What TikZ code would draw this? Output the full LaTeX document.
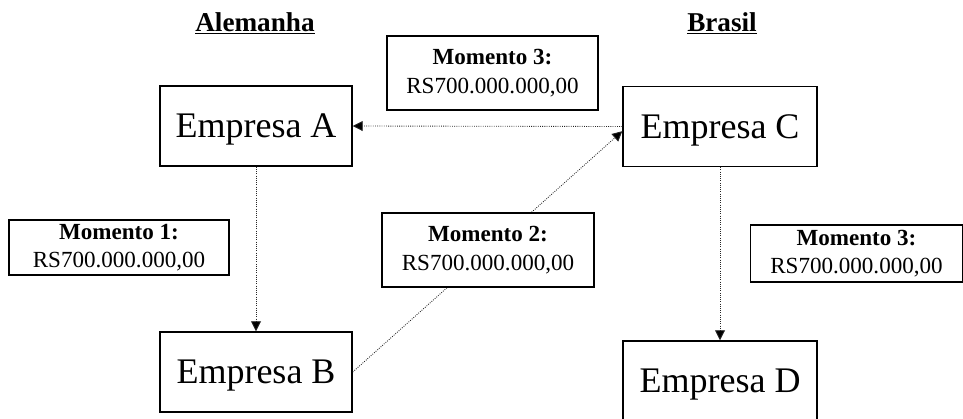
\documentclass[tikz,border=0pt]{standalone}
\usepackage{fontspec}
\setmainfont{Liberation Serif}
\usetikzlibrary{arrows.meta}

\begin{document}
\begin{tikzpicture}[x=0.75pt,y=-0.75pt,
  company/.style={draw,line width=1.1pt,fill=white,minimum width=144pt,
    minimum height=60pt,inner sep=0pt,text depth=0pt,
    font=\fontsize{27}{27}\selectfont},
  amount/.style={draw,line width=1.1pt,fill=white,inner sep=0pt,align=center,
    font=\fontsize{17.3}{21.5}\selectfont},
  heading/.style={inner sep=0pt,anchor=base,font=\fontsize{20.4}{20.4}\selectfont\bfseries},
  flow/.style={densely dotted,line width=0.65pt,draw=black!85,
    -{Triangle[length=7.5pt,width=7.5pt,fill=black]}}]

\useasboundingbox (0,0) rectangle (963,418);
\clip (0,0) rectangle (963,418);

% country headings
\node[heading] (ger) at (255,31) {Alemanha};
\node[heading] (bra) at (722,31) {Brasil};
\draw[line width=1.3pt] ([yshift=-1.8pt]ger.base west) -- ([yshift=-1.8pt]ger.base east);
\draw[line width=1.3pt] ([yshift=-1.8pt]bra.base west) -- ([yshift=-1.8pt]bra.base east);

% companies
\node[company] (A) at (256,126) {Empresa A};
\node[company] (B) at (256,372) {Empresa B};
\node[company,minimum width=145.5pt] (C) at (720,126.5) {Empresa C};
\node[company,minimum width=145.5pt] (D) at (720,381) {Empresa D};

% money flows
\draw[flow] (A.south) -- (B.north);
\draw[flow] (B.east) -- ([yshift=-3.5pt]C.west);
\draw[flow] (C.west) -- (A.east);
\draw[flow] (C.south) -- (D.north);

% amounts
\node[amount,minimum width=158pt,minimum height=55.5pt] (m3a) at (492.5,73)
  {\textbf{Momento 3:}\\RS700.000.000,00};
\node[amount,minimum width=165pt,minimum height=41pt] (m1) at (119,247.5)
  {\textbf{Momento 1:}\\RS700.000.000,00};
\node[amount,minimum width=159pt,minimum height=55.5pt] (m2) at (488,250)
  {\textbf{Momento 2:}\\RS700.000.000,00};
\node[amount,minimum width=159pt,minimum height=43pt] (m3b) at (856.5,253.5)
  {\textbf{Momento 3:}\\RS700.000.000,00};
\end{tikzpicture}
\end{document}
